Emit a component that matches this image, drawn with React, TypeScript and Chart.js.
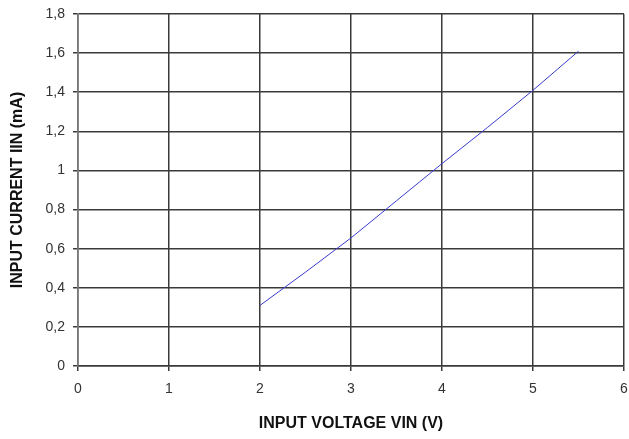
import React, { useEffect, useRef } from "react";
import { Chart, registerables } from "chart.js";

Chart.register(...registerables);

const voltage = [2, 2.5, 3, 3.5, 4, 4.5, 5, 5.5];
const current = [0.31, 0.48, 0.655, 0.845, 1.035, 1.22, 1.41, 1.61];
const yTickLabels = ["0", "0,2", "0,4", "0,6", "0,8", "1", "1,2", "1,4", "1,6", "1,8"];
const xTickLabels = ["0", "1", "2", "3", "4", "5", "6"];
const xTitle = "INPUT VOLTAGE VIN (V)";
const yTitle = "INPUT CURRENT IIN (mA)";

export default function App() {
  const ref = useRef<HTMLCanvasElement | null>(null);
  useEffect(() => {
    if (!ref.current) return;
    const gridColor = "#3a3a3a";
    const tickFont = { family: "'Liberation Sans', Arial, sans-serif", size: 14 };
    const titleFont = { family: "'Liberation Sans', Arial, sans-serif", size: 16, weight: "bold" as const };
    const chart = new Chart(ref.current, {
      type: "line",
      data: {
        datasets: [
          {
            data: voltage.map((v, i) => ({ x: v, y: current[i] })),
            borderColor: "#3a3acc",
            borderWidth: 1,
            pointRadius: 0,
            fill: false,
            tension: 0,
          },
        ],
      },
      options: {
        animation: false,
        responsive: false,
        maintainAspectRatio: false,
        layout: { padding: { top: 14, right: 5, left: 0, bottom: 0 } },
        plugins: { legend: { display: false }, tooltip: { enabled: false } },
        scales: {
          x: {
            type: "linear",
            min: 0,
            max: 6,
            afterFit: (s: any) => {
              s.height = 73;
              s.paddingRight = 0;
              s.paddingLeft = 0;
            },
            border: { color: gridColor, width: 1.5 },
            grid: { color: gridColor, lineWidth: 1.5, tickLength: 5, drawTicks: true },
            ticks: {
              stepSize: 1,
              padding: 10,
              color: "#333",
              font: tickFont,
              maxRotation: 0,
              callback: (v: any) => xTickLabels[Math.round(Number(v))] ?? "",
            },
            title: { display: true, text: xTitle, color: "#111", font: titleFont, padding: { top: 0, bottom: 6 } },
          },
          y: {
            type: "linear",
            min: 0,
            max: 1.8,
            afterFit: (s: any) => {
              s.width = 78;
              s.paddingTop = 0;
              s.paddingBottom = 0;
            },
            border: { color: "#777", width: 1.5 },
            grid: { color: gridColor, lineWidth: 1.5, tickLength: 5, drawTicks: true },
            ticks: {
              stepSize: 0.2,
              padding: 8,
              color: "#333",
              font: tickFont,
              callback: (v: any) => yTickLabels[Math.round(Number(v) * 5)] ?? "",
            },
            title: { display: true, text: yTitle, color: "#111", font: titleFont, padding: { top: 8, bottom: 0 } },
          },
        },
      },
    });
    return () => chart.destroy();
  }, []);
  return (
    <div style={{ position: "fixed", left: 0, top: 0, width: 629, height: 439, background: "#fff" }}>
      <canvas ref={ref} width={629} height={439} style={{ width: 629, height: 439 }} />
    </div>
  );
}
